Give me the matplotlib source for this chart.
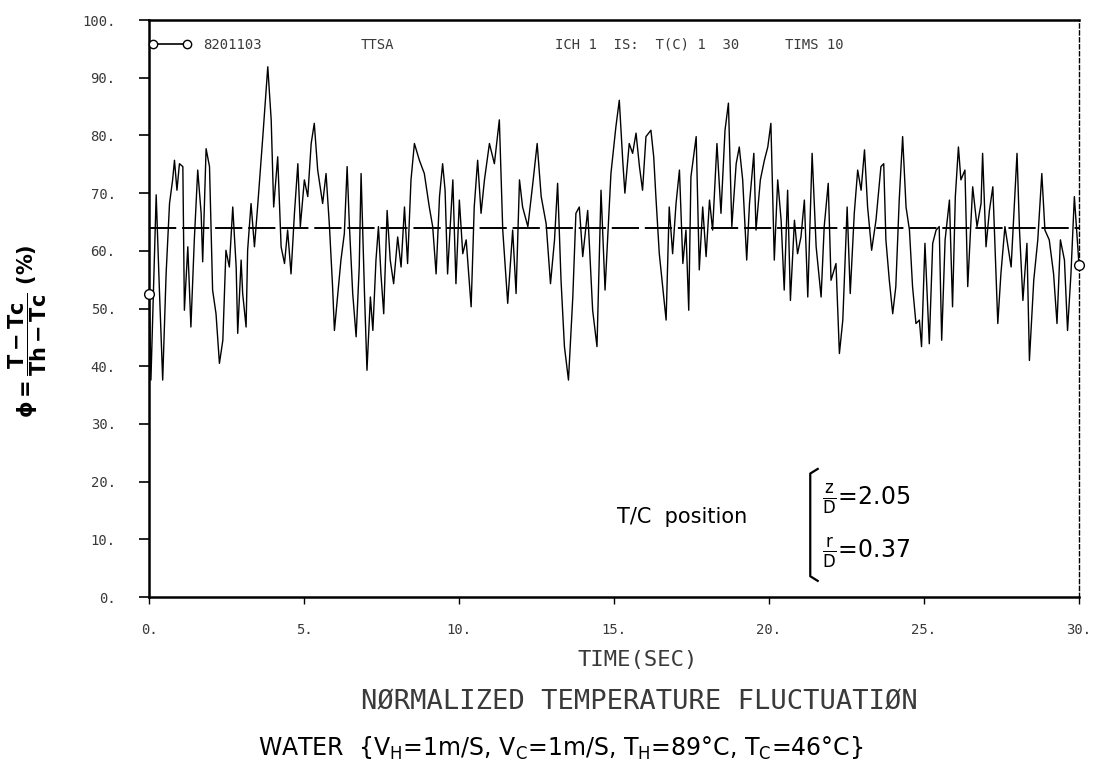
import matplotlib
matplotlib.use("Agg")
import matplotlib.pyplot as plt
from matplotlib.lines import Line2D

# time trace (sec, %)
time_s = [0.01, 0.06, 0.23, 0.33, 0.44, 0.55, 0.66, 0.76, 0.82, 0.90, 0.98, 1.09, 1.14, 1.25, 1.35,
          1.46, 1.57, 1.68, 1.73, 1.84, 1.95, 2.05, 2.16, 2.27, 2.38, 2.48, 2.59, 2.70, 2.81, 2.86,
          2.97, 3.02, 3.13, 3.18, 3.29, 3.40, 3.51, 3.67, 3.83, 3.94, 4.02, 4.15, 4.26, 4.37, 4.47,
          4.58, 4.69, 4.80, 4.88, 5.01, 5.12, 5.23, 5.33, 5.44, 5.60, 5.71, 5.82, 5.92, 5.98, 6.09,
          6.19, 6.30, 6.39, 6.46, 6.57, 6.68, 6.78, 6.84, 6.95, 7.03, 7.14, 7.22, 7.32, 7.40, 7.48,
          7.57, 7.68, 7.78, 7.89, 8.02, 8.13, 8.24, 8.34, 8.45, 8.56, 8.72, 8.88, 9.04, 9.15, 9.26,
          9.37, 9.47, 9.55, 9.63, 9.80, 9.90, 10.01, 10.12, 10.23, 10.39, 10.49, 10.60, 10.71, 10.82, 10.98,
          11.14, 11.30, 11.41, 11.52, 11.57, 11.73, 11.84, 11.95, 12.05, 12.22, 12.38, 12.52, 12.65, 12.81, 12.95,
          13.08, 13.18, 13.29, 13.40, 13.53, 13.67, 13.77, 13.88, 13.99, 14.15, 14.31, 14.45, 14.58, 14.71, 14.90,
          15.06, 15.17, 15.28, 15.35, 15.49, 15.60, 15.71, 15.82, 15.92, 16.03, 16.19, 16.28, 16.35, 16.46, 16.57,
          16.68, 16.78, 16.89, 17.00, 17.11, 17.22, 17.32, 17.41, 17.48, 17.65, 17.75, 17.86, 17.97, 18.08, 18.18,
          18.32, 18.45, 18.58, 18.69, 18.80, 18.94, 19.04, 19.15, 19.28, 19.37, 19.51, 19.58, 19.72, 19.85, 19.96,
          20.06, 20.17, 20.28, 20.39, 20.49, 20.60, 20.69, 20.82, 20.92, 21.03, 21.14, 21.25, 21.39, 21.52, 21.68,
          21.78, 21.91, 22.00, 22.16, 22.27, 22.38, 22.52, 22.62, 22.75, 22.86, 22.97, 23.08, 23.18, 23.31, 23.45,
          23.61, 23.70, 23.77, 23.88, 23.99, 24.09, 24.20, 24.31, 24.42, 24.53, 24.63, 24.74, 24.85, 24.92, 25.03,
          25.17, 25.28, 25.39, 25.49, 25.57, 25.68, 25.82, 25.92, 26.01, 26.11, 26.19, 26.32, 26.41, 26.57, 26.71,
          26.84, 26.89, 27.00, 27.11, 27.22, 27.38, 27.48, 27.61, 27.81, 28.00, 28.08, 28.19, 28.32, 28.40, 28.54,
          28.67, 28.80, 28.90, 29.04, 29.18, 29.29, 29.40, 29.53, 29.63, 29.74, 29.85, 30.00]
phi_pct = [52.6, 37.6, 69.7, 53.8, 37.6, 56.0, 68.2, 72.3, 75.7, 70.5, 75.1, 74.6, 49.7, 60.7, 46.8,
           61.9, 74.0, 66.5, 58.1, 77.7, 74.6, 53.2, 49.1, 40.5, 44.5, 60.1, 57.2, 67.6, 57.2, 45.7,
           58.4, 52.6, 46.8, 60.1, 68.2, 60.7, 68.2, 79.8, 91.9, 82.7, 67.6, 76.3, 60.7, 57.8, 63.6,
           56.0, 66.5, 75.1, 64.2, 72.3, 69.4, 78.6, 82.1, 74.0, 68.2, 73.4, 64.2, 53.8, 46.2, 52.6,
           58.4, 63.0, 74.6, 64.7, 52.6, 45.1, 57.2, 73.4, 52.6, 39.3, 52.0, 46.2, 58.4, 64.2, 56.0,
           49.1, 67.0, 58.4, 54.3, 62.4, 57.2, 67.6, 57.8, 72.3, 78.6, 75.7, 73.4, 67.6, 64.2, 56.0,
           69.4, 75.1, 70.5, 56.0, 72.3, 54.3, 68.8, 59.5, 61.9, 50.3, 67.6, 75.7, 66.5, 72.3, 78.6,
           75.1, 82.7, 63.6, 54.9, 50.9, 63.6, 52.6, 72.3, 67.6, 64.2, 71.7, 78.6, 69.4, 64.7, 54.3,
           61.9, 71.7, 54.9, 43.4, 37.6, 52.0, 66.5, 67.6, 59.0, 67.0, 49.7, 43.4, 70.5, 53.2, 73.4,
           81.5, 86.1, 75.7, 70.0, 78.6, 76.9, 80.4, 74.6, 70.5, 79.8, 80.9, 76.3, 69.4, 59.5, 53.8,
           48.0, 67.6, 59.5, 68.2, 74.0, 57.8, 63.6, 49.7, 72.8, 79.8, 56.7, 67.6, 59.0, 68.8, 63.6,
           78.6, 66.5, 80.9, 85.6, 64.2, 75.1, 78.0, 72.3, 58.4, 68.2, 76.9, 63.6, 72.3, 75.7, 78.0,
           82.1, 58.4, 72.3, 65.3, 53.2, 70.5, 51.4, 65.3, 59.5, 62.4, 68.8, 52.0, 76.9, 60.7, 52.0,
           64.2, 71.7, 54.9, 57.8, 42.2, 48.0, 67.6, 52.6, 66.5, 74.0, 70.5, 77.5, 67.6, 60.1, 65.3,
           74.6, 75.1, 61.9, 54.9, 49.1, 53.8, 68.8, 79.8, 67.6, 63.6, 53.8, 47.4, 48.0, 43.4, 61.3,
           43.9, 61.3, 63.6, 64.2, 44.5, 61.9, 68.8, 50.3, 69.4, 78.0, 72.3, 74.0, 53.8, 71.1, 64.2,
           68.2, 76.9, 60.7, 67.0, 71.1, 47.4, 56.0, 64.2, 57.2, 76.9, 63.6, 51.4, 61.3, 41.0, 54.9,
           61.9, 73.4, 63.6, 61.9, 56.0, 47.4, 61.9, 58.4, 46.2, 56.0, 69.4, 57.5]
mean_level = 64.0

x_ticks = [0, 5, 10, 15, 20, 25, 30]
y_ticks = [0, 10, 20, 30, 40, 50, 60, 70, 80, 90, 100]

plt.rcParams['mathtext.fontset'] = 'dejavusans'
plt.rcParams['mathtext.default'] = 'regular'
plotter = 'DejaVu Sans Mono'
ink = '#3a3a3a'

fig = plt.figure(figsize=(10.96, 7.8), dpi=100)
ax = fig.add_axes([0.136, 0.2346, 0.8485, 0.7397])

# the record itself, open circles at both ends
ax.plot(time_s, phi_pct, color='black', lw=1.0, marker='o', markevery=[0, -1],
        ms=7, mfc='white', mec='black', mew=1.0, clip_on=False, zorder=3)
ax.axhline(mean_level, color='black', lw=1.4, dashes=(14, 3))

ax.set_xlim(0, 30)
ax.set_ylim(0, 100)
ax.set_xticks(x_ticks)
ax.set_xticklabels([f"{v}." for v in x_ticks])
ax.set_yticks(y_ticks)
ax.set_yticklabels([f"{v}." for v in y_ticks])
ax.tick_params(axis='y', direction='out', length=7, width=1.2, pad=17,
               labelsize=10, labelcolor=ink)
ax.tick_params(axis='x', direction='out', length=5, width=1.0, pad=14,
               labelsize=10, labelcolor=ink)
for lab in ax.get_xticklabels() + ax.get_yticklabels():
    lab.set_family(plotter)

for side in ['left', 'bottom', 'top']:
    ax.spines[side].set_linewidth(1.8)
ax.spines['right'].set_linewidth(1.0)
ax.spines['right'].set_linestyle((0, (3, 2)))

# run header
hdr_y = 0.957
rec = Line2D([], [], color='black', lw=1.2, marker='o', ms=6, mfc='white', mec='black')
ax.legend([rec], ['8201103'], loc='center left', bbox_to_anchor=(0.0, hdr_y),
          numpoints=2, handlelength=3.0, handletextpad=0.9, frameon=False,
          borderaxespad=0, borderpad=0, prop={'family': plotter, 'size': 10})
for lg in ax.get_legend().get_texts():
    lg.set_color(ink)
ax.text(0.227, hdr_y, 'TTSA', transform=ax.transAxes, va='center',
        family=plotter, fontsize=10, color=ink)
ax.text(0.437, hdr_y, 'ICH 1  IS:  T(C) 1  30', transform=ax.transAxes, va='center',
        family=plotter, fontsize=10, color=ink)
ax.text(0.684, hdr_y, 'TIMS 10', transform=ax.transAxes, va='center',
        family=plotter, fontsize=10, color=ink)

# thermocouple position note
ax.text(0.503, 0.139, 'T/C  position', transform=ax.transAxes, va='center',
        fontsize=15, family='DejaVu Sans')
ax.plot([0.719, 0.711, 0.711, 0.719], [0.222, 0.214, 0.036, 0.028],
        transform=ax.transAxes, color='black', lw=1.6, clip_on=False)
ax.text(0.724, 0.168, r'$\frac{z}{D}$=2.05', transform=ax.transAxes, va='center',
        fontsize=17, family='DejaVu Sans')
ax.text(0.724, 0.076, r'$\frac{r}{D}$=0.37', transform=ax.transAxes, va='center',
        fontsize=17, family='DejaVu Sans')

ax.set_ylabel(r'$\phi=\dfrac{\mathbf{T-Tc}}{\mathbf{Th-Tc}}$ (%)', fontsize=15,
              fontweight='bold', family='DejaVu Sans')
ax.yaxis.set_label_coords(-0.108, 0.46)

fig.text(0.582, 0.154, 'TIME(SEC)', ha='center', va='center', family=plotter,
         fontsize=16, color=ink)
fig.text(0.583, 0.099, 'NØRMALIZED TEMPERATURE FLUCTUATIØN', ha='center', va='center',
         family=plotter, fontsize=19.5, color=ink)
fig.text(0.512, 0.041,
         r'WATER  {V$_H$=1m/S, V$_C$=1m/S, T$_H$=89°C, T$_C$=46°C}',
         ha='center', va='center', fontsize=17, family='DejaVu Sans')

fig.savefig('out.png', dpi=100, facecolor='white')
